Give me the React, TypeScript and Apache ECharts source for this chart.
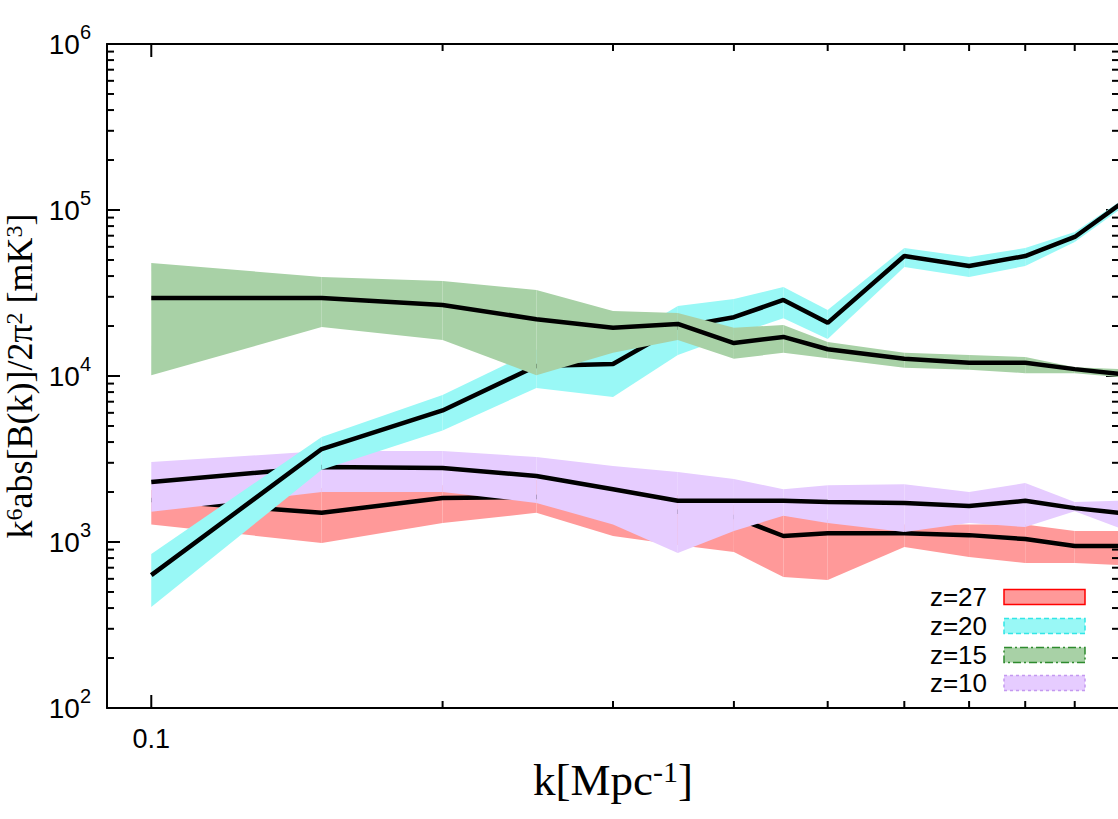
import React, { useEffect, useRef } from "react";
import * as echarts from "echarts";

// k [Mpc^-1]
const kValues = [0.1, 0.15, 0.2, 0.25, 0.3, 0.35, 0.4, 0.45, 0.5, 0.6, 0.7, 0.8, 0.9, 1.0];

// z = 27 (red)
const z27Mean = [1790, 1500, 1840, 1870, 1670, 1520, 1415, 1087, 1130, 1130, 1100, 1042, 946, 946];
const z27Upper = [2060, 2110, 2200, 2360, 2060, 1920, 1670, 1445, 1360, 1275, 1275, 1275, 1165, 1165];
const z27Lower = [1275, 986, 1300, 1500, 1087, 960, 870, 615, 590, 933, 813, 747, 747, 727];

// z = 20 (cyan)
const z20Mean = [632, 3630, 6200, 11500, 11800, 19700, 22600, 28700, 20900, 52800, 46000, 52800, 68800, 107100];
const z20Upper = [847, 4290, 7690, 14400, 15400, 26400, 29100, 34400, 25000, 59000, 52100, 59000, 73700, 111700];
const z20Lower = [406, 2720, 4700, 8470, 7470, 13400, 17700, 22300, 16700, 45400, 39500, 46000, 64100, 100000];

// z = 15 (green)
const z15Mean = [29500, 29500, 26800, 22000, 19500, 20600, 15800, 17200, 14500, 12700, 12000, 12000, 11000, 10300];
const z15Upper = [48000, 39500, 37300, 33000, 24600, 24000, 19500, 20300, 16000, 13800, 13400, 13000, 11300, 11000];
const z15Lower = [10100, 19700, 16500, 10100, 13800, 16500, 12700, 13800, 12800, 11200, 10900, 10400, 10400, 9860];

// z = 10 (purple)
const z10Mean = [2300, 2830, 2790, 2500, 2080, 1770, 1770, 1770, 1740, 1720, 1650, 1770, 1600, 1500];
const z10Upper = [3030, 3530, 3530, 3250, 2870, 2640, 2400, 2080, 2200, 2230, 2000, 2265, 1740, 1770];
const z10Lower = [1520, 2000, 2000, 1720, 1275, 859, 1165, 1440, 1300, 1150, 1300, 1230, 1530, 1215];

// axes
const kMin = 0.09;
const kMax = 1.0;
const yMin = 100;
const yMax = 1000000;
const xMajorTicks = [0.1];
const xMinorTicks = [0.2, 0.3, 0.4, 0.5, 0.6, 0.7, 0.8, 0.9];
const yMinorTicks = [
  200, 300, 400, 500, 600, 700, 800, 900,
  2000, 3000, 4000, 5000, 6000, 7000, 8000, 9000,
  20000, 30000, 40000, 50000, 60000, 70000, 80000, 90000,
  200000, 300000, 400000, 500000, 600000, 700000, 800000, 900000,
];

const legendNames = ["z=27", "z=20", "z=15", "z=10"];

const SANS = "Liberation Sans, Arial, Helvetica, sans-serif";
const SERIF = "Liberation Serif, Times New Roman, serif";

function bandSeries(name: string, lower: number[], upper: number[], color: string, z: number) {
  const data = [];
  for (let i = 0; i < kValues.length - 1; i++) {
    data.push([kValues[i], lower[i], upper[i], kValues[i + 1], lower[i + 1], upper[i + 1]]);
  }
  return {
    type: "custom",
    name,
    coordinateSystem: "cartesian2d",
    silent: true,
    z,
    encode: { x: [0, 3], y: [1, 2, 4, 5] },
    data,
    renderItem: (_p: any, api: any) => {
      const a = api.coord([api.value(0), api.value(1)]);
      const b = api.coord([api.value(3), api.value(4)]);
      const c = api.coord([api.value(3), api.value(5)]);
      const d = api.coord([api.value(0), api.value(2)]);
      return {
        type: "polygon",
        shape: { points: [a, b, c, d] },
        style: { fill: color, stroke: null },
      };
    },
  };
}

function lineSeries(name: string, mean: number[], z: number) {
  return {
    type: "line",
    name,
    z,
    data: kValues.map((k, i) => [k, mean[i]]),
    symbol: "none",
    silent: true,
    lineStyle: { color: "#000", width: 4.5 },
  };
}

export default function App() {
  const ref = useRef<HTMLDivElement>(null);
  useEffect(() => {
    if (!ref.current) return;
    const chart = echarts.init(ref.current, undefined, { renderer: "svg" });

    const supRich = {
      b: { fontSize: 28, fontFamily: SANS, color: "#000", lineHeight: 44 },
      s: { fontSize: 20, fontFamily: SANS, color: "#000", verticalAlign: "top", lineHeight: 20 },
    };

    const xTickSeries = {
      type: "custom",
      coordinateSystem: "cartesian2d",
      silent: true,
      clip: false,
      z: 20,
      data: [...xMajorTicks.map((v) => [v, yMin, 13]), ...xMinorTicks.map((v) => [v, yMin, 7])],
      renderItem: (_p: any, api: any) => {
        const bot = api.coord([api.value(0), yMin]);
        const top = api.coord([api.value(0), yMax]);
        const len = api.value(2);
        return {
          type: "group",
          children: [
            { type: "line", shape: { x1: bot[0], y1: bot[1], x2: bot[0], y2: bot[1] - len }, style: { stroke: "#000", lineWidth: 2 } },
            { type: "line", shape: { x1: top[0], y1: top[1], x2: top[0], y2: top[1] + len }, style: { stroke: "#000", lineWidth: 2 } },
          ],
        };
      },
    };

    const yTickSeries = {
      type: "custom",
      coordinateSystem: "cartesian2d",
      silent: true,
      clip: false,
      z: 20,
      data: yMinorTicks.map((v) => [kMin, v]),
      renderItem: (_p: any, api: any) => {
        const l = api.coord([kMin, api.value(1)]);
        const r = api.coord([kMax, api.value(1)]);
        return {
          type: "group",
          children: [
            { type: "line", shape: { x1: l[0], y1: l[1], x2: l[0] + 7, y2: l[1] }, style: { stroke: "#000", lineWidth: 2 } },
            { type: "line", shape: { x1: r[0] - 7, y1: r[1], x2: r[0], y2: r[1] }, style: { stroke: "#000", lineWidth: 2 } },
          ],
        };
      },
    };

    const legendStyles = [
      { fill: "#ff9999", stroke: "#ff0000", lineDash: null },
      { fill: "#99f8f6", stroke: "#33e6e6", lineDash: [5, 3] },
      { fill: "#a8d1a6", stroke: "#2e8b2e", lineDash: [8, 3, 2, 3] },
      { fill: "#e6ccff", stroke: "#c499f0", lineDash: [3, 3] },
    ];
    const legendRowY = [597, 626, 655, 683];
    const graphic: any[] = [];
    legendNames.forEach((name, i) => {
      graphic.push({
        type: "text",
        x: 987,
        y: legendRowY[i],
        style: {
          text: name,
          fontSize: 26,
          fontFamily: SANS,
          fill: "#000",
          align: "right",
          verticalAlign: "middle",
        },
        silent: true,
      });
      graphic.push({
        type: "rect",
        x: 1004,
        y: legendRowY[i] - 7.5,
        shape: { width: 81, height: 15 },
        style: {
          fill: legendStyles[i].fill,
          stroke: legendStyles[i].stroke,
          lineWidth: 1.5,
          lineDash: legendStyles[i].lineDash,
        },
        silent: true,
      });
    });

    const option: any = {
      animation: false,
      backgroundColor: "#fff",
      grid: { left: 107, top: 44, width: 1012, height: 664, containLabel: false, outerBoundsMode: "none" },
      xAxis: [
        {
          type: "log",
          logBase: 10,
          min: kMin,
          max: kMax,
          position: "bottom",
          axisLine: { show: true, lineStyle: { color: "#000", width: 2 } },
          axisTick: { show: false },
          splitLine: { show: false },
          minorTick: { show: false },
          axisLabel: {
            margin: 17,
            fontSize: 27,
            fontFamily: SANS,
            color: "#000",
            formatter: (v: number) => (Math.abs(v - 0.1) < 1e-9 ? "0.1" : ""),
          },
          name: "k[Mpc{s|-1}]",
          nameLocation: "middle",
          nameGap: 39,
          nameTextStyle: {
            fontSize: 45,
            fontFamily: SERIF,
            color: "#000",
            lineHeight: 46,
            rich: {
              s: { fontSize: 30, fontFamily: SERIF, color: "#000", verticalAlign: "top", lineHeight: 28 },
            },
          },
        },
        {
          type: "log",
          logBase: 10,
          min: kMin,
          max: kMax,
          position: "top",
          axisLine: { show: true, lineStyle: { color: "#000", width: 2 } },
          axisTick: { show: false },
          axisLabel: { show: false },
          splitLine: { show: false },
        },
      ],
      yAxis: [
        {
          type: "log",
          logBase: 10,
          min: yMin,
          max: yMax,
          position: "left",
          axisLine: { show: true, lineStyle: { color: "#000", width: 2 } },
          axisTick: { show: true, inside: true, length: 13, lineStyle: { color: "#000", width: 2 } },
          splitLine: { show: false },
          axisLabel: {
            margin: 16,
            color: "#000",
            formatter: (v: number) => `{b|10}{s|${Math.round(Math.log10(v))}}`,
            rich: supRich,
          },
          name: "k{s|6}abs[B(k)]/2π{s|2} [mK{s|3}]",
          nameLocation: "middle",
          nameRotate: 90,
          nameGap: 46,
          nameTextStyle: {
            fontSize: 36,
            fontFamily: SERIF,
            color: "#000",
            lineHeight: 36,
            rich: {
              s: { fontSize: 24, fontFamily: SERIF, color: "#000", verticalAlign: "top", lineHeight: 20 },
            },
          },
        },
        {
          type: "log",
          logBase: 10,
          min: yMin,
          max: yMax,
          position: "right",
          axisLine: { show: true, lineStyle: { color: "#000", width: 2 } },
          axisTick: { show: true, inside: true, length: 13, lineStyle: { color: "#000", width: 2 } },
          axisLabel: { show: false },
          splitLine: { show: false },
        },
      ],
      series: [
        bandSeries("z27band", z27Lower, z27Upper, "#ff9999", 2),
        lineSeries("z27", z27Mean, 3),
        bandSeries("z10band", z10Lower, z10Upper, "#e6ccff", 4),
        lineSeries("z10", z10Mean, 5),
        bandSeries("z20band", z20Lower, z20Upper, "#99f8f6", 6),
        lineSeries("z20", z20Mean, 7),
        bandSeries("z15band", z15Lower, z15Upper, "#a8d1a6", 8),
        lineSeries("z15", z15Mean, 9),
        xTickSeries,
        yTickSeries,
      ],
      graphic,
    };
    chart.setOption(option);
    return () => chart.dispose();
  }, []);

  return (
    <div
      ref={ref}
      style={{ position: "absolute", left: 0, top: 0, width: 1118, height: 819, background: "#fff" }}
    />
  );
}
